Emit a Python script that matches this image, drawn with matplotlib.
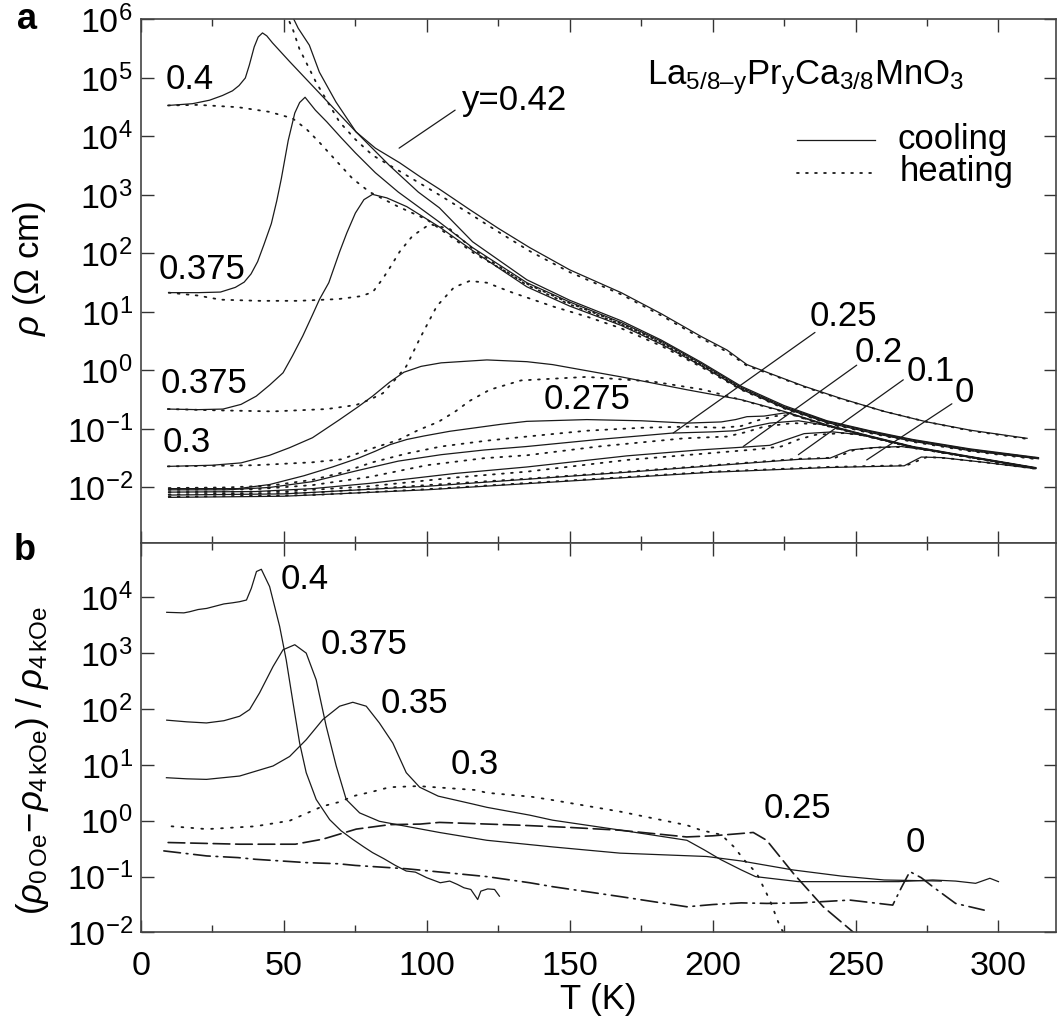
import numpy as np
import matplotlib
matplotlib.use('Agg')
import matplotlib.pyplot as plt
from matplotlib.ticker import MultipleLocator, NullLocator, FixedLocator

plt.rcParams['font.family'] = ['Liberation Sans', 'DejaVu Sans']
plt.rcParams['mathtext.fontset'] = 'custom'
plt.rcParams['mathtext.rm'] = 'Liberation Sans'
plt.rcParams['mathtext.it'] = 'Liberation Sans:italic'
plt.rcParams['mathtext.bf'] = 'Liberation Sans:bold'

# ---- panel a: resistivity, log10(rho / Ohm cm) vs T (K) ----
T42c = [52.5, 55, 58.9, 62.4, 68.2, 75.2, 82, 90.5, 98, 104.4, 115, 125, 136, 150, 168, 182, 196, 205, 212, 220, 232, 245, 260, 275, 290, 310]
L42c = [6.1, 5.85, 5.56, 5.1, 4.59, 4.08, 3.8, 3.55, 3.3, 3.1, 2.75, 2.43, 2.1, 1.72, 1.33, 0.97, 0.58, 0.35, 0.1, -0.05, -0.27, -0.48, -0.7, -0.88, -1.02, -1.16]
T42h = [50.6, 53, 55.4, 61.2, 69.4, 75, 81, 90, 104.4, 115, 125, 136, 150, 168, 182, 196, 205, 212, 220, 232, 245, 260, 275, 290, 310]
L42h = [6.1, 5.85, 5.5, 4.93, 4.25, 3.95, 3.68, 3.42, 3.0, 2.68, 2.37, 2.04, 1.68, 1.3, 0.94, 0.55, 0.32, 0.08, -0.06, -0.28, -0.49, -0.7, -0.88, -1.03, -1.17]

T40c = [9.5, 18, 24, 28.5, 32, 34.3, 36.5, 37.9, 39.6, 41, 42.5, 44, 46, 52, 63.6, 75.2, 87, 97, 104.4, 116, 135, 150, 168, 182, 196, 210, 225, 240, 255, 270, 290, 314]
L40c = [4.53, 4.56, 4.62, 4.70, 4.78, 4.87, 5.0, 5.22, 5.53, 5.7, 5.77, 5.72, 5.6, 5.28, 4.68, 4.08, 3.5, 3.05, 2.78, 2.2, 1.55, 1.2, 0.85, 0.52, 0.14, -0.27, -0.6, -0.86, -1.03, -1.18, -1.34, -1.49]
T40h = [9.5, 20, 34, 45, 53, 58, 62.4, 68, 74, 80, 90, 100, 116.6, 135.5, 150, 168, 182, 196, 210, 225, 240, 255, 270, 290, 314]
L40h = [4.53, 4.54, 4.5, 4.42, 4.31, 4.12, 3.9, 3.6, 3.28, 3.05, 2.8, 2.58, 2.0, 1.47, 1.15, 0.8, 0.48, 0.1, -0.3, -0.63, -0.88, -1.05, -1.2, -1.36, -1.5]

T375c = [9.7, 20, 27.8, 33, 36.1, 38.5, 40.8, 43, 45.6, 47.5, 49.1, 51.5, 53.8, 55.5, 57.4, 61, 65, 70, 75, 82, 90, 97, 104, 116, 135, 150, 168, 182, 196, 210, 225, 240, 255, 270, 290, 314]
L375c = [1.33, 1.33, 1.34, 1.42, 1.51, 1.65, 1.86, 2.15, 2.51, 2.9, 3.28, 3.93, 4.4, 4.58, 4.67, 4.45, 4.25, 3.98, 3.72, 3.38, 3.05, 2.8, 2.55, 2.1, 1.5, 1.17, 0.82, 0.5, 0.12, -0.29, -0.62, -0.87, -1.04, -1.19, -1.35, -1.5]
T375h = [9.7, 20, 27.8, 41.5, 55, 69, 77, 81.1, 84.6, 87, 90.5, 95, 101, 108, 116, 135, 150, 168, 182, 196, 210, 225, 240, 255, 270, 290, 314]
L375h = [1.33, 1.28, 1.21, 1.19, 1.19, 1.22, 1.27, 1.34, 1.57, 1.75, 2.03, 2.3, 2.5, 2.42, 2.08, 1.46, 1.13, 0.79, 0.47, 0.09, -0.31, -0.64, -0.89, -1.06, -1.2, -1.36, -1.51]

T35c = [9.4, 20, 28.7, 35, 40.3, 45, 49.7, 53, 56.6, 60, 62.5, 65.7, 69.5, 72, 75, 78, 81, 86, 93, 104.5, 116, 135, 150, 168, 182, 196, 210, 225, 240, 255, 270, 290, 314]
L35c = [-0.66, -0.67, -0.66, -0.58, -0.44, -0.25, -0.04, 0.25, 0.59, 0.95, 1.22, 1.5, 2.03, 2.35, 2.69, 2.92, 3.01, 2.95, 2.8, 2.45, 2.05, 1.43, 1.1, 0.77, 0.45, 0.08, -0.32, -0.64, -0.89, -1.06, -1.21, -1.37, -1.51]
T35h = [9.4, 25, 46.2, 65, 75.3, 80, 84.6, 88.5, 92.8, 97.6, 103.5, 109.5, 115, 121, 130, 144.4, 156, 168, 182, 196, 210, 225, 240, 255, 270, 290, 314]
L35h = [-0.66, -0.68, -0.7, -0.66, -0.59, -0.5, -0.39, -0.18, 0.07, 0.55, 1.1, 1.42, 1.53, 1.5, 1.33, 1.09, 0.92, 0.72, 0.42, 0.06, -0.33, -0.65, -0.9, -1.07, -1.22, -1.38, -1.52]

T30c = [9.4, 25, 35, 45, 52, 60, 69.5, 76, 81, 87, 92, 98, 105, 121, 135, 144, 168, 191, 210, 225, 240, 255, 270, 290, 313]
L30c = [-1.64, -1.62, -1.58, -1.45, -1.32, -1.15, -0.84, -0.62, -0.44, -0.2, -0.03, 0.07, 0.13, 0.18, 0.15, 0.1, -0.11, -0.33, -0.5, -0.7, -0.93, -1.12, -1.3, -1.47, -1.66]
T30h = [9.4, 40, 60, 70, 81, 90, 97, 104, 110, 115, 122, 133, 156, 179, 197, 209, 225, 240, 255, 270, 290, 313]
L30h = [-1.64, -1.62, -1.57, -1.52, -1.33, -1.19, -1.02, -0.88, -0.7, -0.52, -0.33, -0.17, -0.11, -0.19, -0.33, -0.49, -0.71, -0.94, -1.13, -1.31, -1.48, -1.67]

T275c = [9.7, 20, 34, 45, 57, 67, 76, 82, 87, 93, 99, 108, 117, 126, 135, 156, 175, 191, 203, 208, 212, 218, 226, 240, 255, 270, 290, 313]
L275c = [-2.02, -2.02, -2.02, -1.95, -1.8, -1.65, -1.5, -1.38, -1.27, -1.18, -1.12, -1.04, -0.98, -0.92, -0.87, -0.84, -0.86, -0.9, -0.88, -0.84, -0.79, -0.78, -0.72, -0.94, -1.13, -1.31, -1.48, -1.67]
T275h = [9.7, 30, 45, 60, 70, 81, 93, 105, 121, 135, 156, 175, 191, 203, 210, 216, 222, 228, 240, 255, 270, 290, 313]
L275h = [-2.01, -2.0, -1.97, -1.87, -1.75, -1.57, -1.42, -1.3, -1.2, -1.13, -1.03, -0.98, -0.96, -0.98, -0.95, -0.85, -0.78, -0.76, -0.95, -1.14, -1.32, -1.49, -1.68]

T25c = [9.7, 30, 45, 60, 75, 90, 105, 120, 135, 160, 186, 200, 208, 214, 220, 230, 240, 255, 270, 290, 313]
L25c = [-2.04, -2.04, -2.0, -1.9, -1.72, -1.55, -1.44, -1.36, -1.3, -1.18, -1.07, -1.05, -1.03, -0.96, -0.9, -0.86, -0.94, -1.13, -1.31, -1.48, -1.67]
T25h = [9.7, 40, 60, 80, 100, 120, 135, 160, 190, 205, 212, 218, 228, 238, 255, 270, 290, 313]
L25h = [-2.04, -2.03, -1.96, -1.82, -1.62, -1.5, -1.45, -1.3, -1.16, -1.13, -1.05, -0.96, -0.9, -0.92, -1.13, -1.31, -1.48, -1.67]

T20c = [9.7, 40, 60, 80, 110, 135, 170, 195, 211, 220, 226, 232, 242, 252, 270, 290, 313]
L20c = [-2.08, -2.07, -2.02, -1.93, -1.76, -1.65, -1.46, -1.36, -1.31, -1.28, -1.18, -1.08, -1.05, -1.1, -1.31, -1.48, -1.67]
T20h = [9.7, 50, 80, 110, 135, 170, 200, 215, 224, 230, 236, 246, 254, 270, 290, 313]
L20h = [-2.08, -2.07, -1.98, -1.83, -1.73, -1.53, -1.41, -1.35, -1.3, -1.18, -1.1, -1.07, -1.12, -1.31, -1.48, -1.67]

T10c = [9.7, 50, 100, 135, 170, 200, 230, 241, 248, 256, 266, 275, 290, 313]
L10c = [-2.13, -2.11, -1.98, -1.86, -1.74, -1.63, -1.52, -1.5, -1.36, -1.32, -1.3, -1.36, -1.48, -1.67]
T10h = [9.7, 60, 100, 135, 170, 200, 230, 243, 250, 260, 268, 275, 290, 313]
L10h = [-2.12, -2.09, -1.96, -1.85, -1.73, -1.62, -1.51, -1.49, -1.35, -1.31, -1.31, -1.36, -1.48, -1.67]

T0c = [9.7, 50, 100, 150, 200, 240, 267, 273, 280, 295, 313]
L0c = [-2.17, -2.15, -2.04, -1.89, -1.74, -1.66, -1.63, -1.48, -1.49, -1.57, -1.68]
T0h = [9.7, 60, 100, 150, 200, 240, 268, 275, 282, 295, 313]
L0h = [-2.16, -2.13, -2.03, -1.88, -1.73, -1.65, -1.62, -1.48, -1.5, -1.57, -1.68]

# ---- panel b: relative magnetoresistance, log10 values ----
Tb40 = [9, 15, 17, 20, 23, 26, 29, 32, 34.5, 36.9, 38.6, 40.4, 42.1, 45, 48.5, 50.8, 53.2, 55.5, 57.8, 61.3, 66, 70, 74, 78, 81, 85, 89, 92.8, 96, 100, 104.7, 108, 110.7, 113, 115.4, 117.8, 118.9, 121.3, 123.7, 125.4]
Lb40 = [3.73, 3.72, 3.74, 3.78, 3.80, 3.84, 3.88, 3.9, 3.92, 3.95, 4.16, 4.46, 4.5, 4.19, 3.48, 2.88, 2.11, 1.39, 0.86, 0.38, 0.02, -0.18, -0.33, -0.47, -0.57, -0.68, -0.8, -0.9, -0.92, -1.02, -1.11, -1.08, -1.14, -1.2, -1.23, -1.41, -1.26, -1.22, -1.23, -1.35]
Tb375 = [9, 16, 22.9, 29, 34.5, 38, 41.5, 46.2, 49.7, 53.8, 57.8, 61.3, 64.8, 68.3, 71.8, 76.5, 83.4, 92.8, 104.4, 121, 144.3, 167.6, 197.9, 210, 228, 245, 260, 280]
Lb375 = [1.8, 1.77, 1.75, 1.79, 1.87, 1.99, 2.29, 2.76, 3.06, 3.15, 3.0, 2.52, 1.69, 0.98, 0.38, 0.14, -0.01, -0.1, -0.21, -0.35, -0.47, -0.58, -0.64, -0.72, -0.88, -0.99, -1.06, -1.08]
Tb35 = [8.9, 16, 22.9, 34.5, 46.2, 52, 57.8, 63.6, 69.5, 74.1, 78.8, 83.4, 88.1, 92.8, 97.5, 104, 116, 121, 136, 144, 168, 191, 197, 203, 210, 215, 230, 265, 277, 285, 292, 297, 300]
Lb35 = [0.77, 0.75, 0.74, 0.8, 0.98, 1.15, 1.45, 1.81, 2.05, 2.12, 2.05, 1.75, 1.39, 0.86, 0.6, 0.44, 0.3, 0.24, 0.1, 0.01, -0.17, -0.35, -0.52, -0.7, -0.88, -1.0, -1.09, -1.09, -1.06, -1.08, -1.12, -1.03, -1.09]
Tb30 = [10.7, 23, 40, 52, 63.6, 69, 75, 81, 87, 97, 117, 121, 136.5, 144, 168, 191, 196, 203, 207.5, 211, 215.4, 220, 223.6, 226]
Lb30 = [-0.1, -0.15, -0.1, 0.0, 0.26, 0.33, 0.45, 0.52, 0.6, 0.62, 0.55, 0.5, 0.43, 0.37, 0.16, -0.08, -0.17, -0.25, -0.47, -0.7, -0.94, -1.42, -1.9, -2.1]
Tb25 = [9.5, 34.5, 54, 63.6, 75.3, 87, 97.6, 104.4, 132.6, 150, 167.6, 190.9, 200, 209.6, 214.2, 218.9, 228.2, 238.7, 250.5]
Lb25 = [-0.39, -0.42, -0.42, -0.33, -0.15, -0.07, -0.06, -0.03, -0.08, -0.12, -0.17, -0.29, -0.27, -0.23, -0.21, -0.35, -0.94, -1.54, -2.05]
Tb0 = [8, 23, 34, 40, 58, 69, 75, 93, 121, 136, 144, 168, 191, 200, 210, 219, 231, 248, 263, 266, 269, 273, 277, 285, 295]
Lb0 = [-0.54, -0.63, -0.66, -0.69, -0.75, -0.77, -0.8, -0.86, -1.0, -1.11, -1.18, -1.36, -1.54, -1.5, -1.47, -1.48, -1.47, -1.42, -1.51, -1.2, -0.91, -1.02, -1.18, -1.48, -1.6]

ink = '#1a1a1a'
dot = (0, (1, 4))
FS = 25

fig = plt.figure(figsize=(10.57, 10.19), dpi=100)
axa = fig.add_axes([0.1334, 0.4671, 0.8653, 0.5138])
axb = fig.add_axes([0.1334, 0.0849, 0.8653, 0.3822])

def curve(ax, T, L, ls='-', lw=0.9):
    ax.plot(T, 10 ** np.array(L), color=ink, ls=ls, lw=lw, dash_capstyle='round')

pairs = [(T42c, L42c, T42h, L42h), (T40c, L40c, T40h, L40h),
         (T375c, L375c, T375h, L375h), (T35c, L35c, T35h, L35h),
         (T30c, L30c, T30h, L30h), (T275c, L275c, T275h, L275h),
         (T25c, L25c, T25h, L25h), (T20c, L20c, T20h, L20h),
         (T10c, L10c, T10h, L10h), (T0c, L0c, T0h, L0h)]
for tc, lc, th, lh in pairs:
    curve(axa, tc, lc)
    curve(axa, th, lh, ls=dot, lw=1.3)

curve(axb, Tb40, Lb40)
curve(axb, Tb375, Lb375)
curve(axb, Tb35, Lb35)
curve(axb, Tb30, Lb30, ls=(0, (1, 4.5)), lw=1.3)
curve(axb, Tb25, Lb25, ls=(0, (10, 3.5)), lw=1.2)
curve(axb, Tb0, Lb0, ls=(0, (10, 3.5, 1, 3.5)), lw=1.2)

for ax in (axa, axb):
    ax.set_yscale('log')
    ax.set_xlim(0, 320)
    ax.xaxis.set_major_locator(MultipleLocator(50))
    ax.xaxis.set_minor_locator(MultipleLocator(25))
    ax.yaxis.set_minor_locator(NullLocator())
    ax.tick_params(which='both', direction='in', top=True, right=True,
                   labelsize=24.5, color='#333', width=1.0)
    ax.tick_params(which='major', length=9)
    ax.tick_params(which='minor', length=5)
    ax.tick_params(axis='y', pad=6)
    ax.tick_params(axis='x', pad=13)
    for s in ax.spines.values():
        s.set_color('#444')
        s.set_linewidth(1.2)

axa.set_ylim(10 ** -2.95, 1e6)
axa.yaxis.set_major_locator(FixedLocator([10.0 ** k for k in range(-2, 7)]))
axa.tick_params(labelbottom=False)
axb.set_ylim(1e-2, 10 ** 4.97)
axb.yaxis.set_major_locator(FixedLocator([10.0 ** k for k in range(-2, 5)]))

axa.set_ylabel(r'$\rho$ (Ω cm)', fontsize=FS)
axa.yaxis.set_label_coords(-0.102, 0.525)
axb.set_ylabel(r'$(\rho_{\mathrm{0\,Oe}}\!-\!\rho_{\mathrm{4\,kOe}})\ /\ \rho_{\mathrm{4\,kOe}}$', fontsize=FS)
axb.yaxis.set_label_coords(-0.098, 0.443)
axb.set_xlabel('T (K)', fontsize=FS)
axb.xaxis.set_label_coords(0.5, -0.13)

# composition labels, panel a
txt = dict(fontsize=FS, va='center', color='black')
axa.text(8.6, 10 ** 4.98, '0.4', **txt)
axa.text(6.3, 10 ** 1.73, '0.375', **txt)
axa.text(6.9, 10 ** -0.22, '0.375', **txt)
axa.text(7.5, 10 ** -1.23, '0.3', **txt)
axa.text(140.8, 10 ** -0.5, '0.275', **txt)
axa.text(112.2, 10 ** 4.62, 'y=0.42', **txt)
axa.text(234, 10 ** 0.93, '0.25', **txt)
axa.text(249.8, 10 ** 0.31, '0.2', **txt)
axa.text(267.9, 10 ** -0.01, '0.1', **txt)
axa.text(284.8, 10 ** -0.37, '0', **txt)

lead = dict(arrowstyle='-', lw=0.9, color=ink, shrinkA=0, shrinkB=0)
for (t1, l1), (t2, l2) in [((109.9, 4.45), (90.3, 3.80)),
                           ((235.8, 0.65), (186.2, -1.07)),
                           ((250.4, 0.09), (210.7, -1.30)),
                           ((266.7, -0.16), (230.0, -1.44)),
                           ((283.7, -0.57), (253.9, -1.53))]:
    axa.annotate('', xy=(t2, 10 ** l2), xytext=(t1, 10 ** l1), arrowprops=lead)

axa.text(0.5537, 0.8758, r'La$_{\mathrm{5/8–y}}$Pr$_{\mathrm{y}}$Ca$_{\mathrm{3/8}}$MnO$_{\mathrm{3}}$',
         transform=axa.transAxes, fontsize=FS, va='baseline')

# legend drawn by hand
axa.plot([0.717, 0.8025], [0.7689, 0.7689], transform=axa.transAxes, color=ink, lw=0.9)
axa.plot([0.717, 0.804], [0.707, 0.707], transform=axa.transAxes, color=ink, lw=1.3,
         ls=dot, dash_capstyle='round')
axa.text(0.827, 0.7707, 'cooling', transform=axa.transAxes, fontsize=FS, va='center')
axa.text(0.829, 0.709, 'heating', transform=axa.transAxes, fontsize=FS, va='center')

# composition labels, panel b
axb.text(49, 10 ** 4.31, '0.4', **txt)
axb.text(62.9, 10 ** 3.16, '0.375', **txt)
axb.text(83.7, 10 ** 2.1, '0.35', **txt)
axb.text(108.3, 10 ** 1.0, '0.3', **txt)
axb.text(217.7, 10 ** 0.21, '0.25', **txt)
axb.text(270.9, 10 ** -0.39, '0', ha='center', fontsize=FS, va='center')

fig.text(0.0161, 0.9715, 'a', fontsize=26, fontweight='bold', va='baseline')
fig.text(0.0128, 0.4504, 'b', fontsize=26, fontweight='bold', va='baseline')

fig.savefig('out.png', dpi=100)
